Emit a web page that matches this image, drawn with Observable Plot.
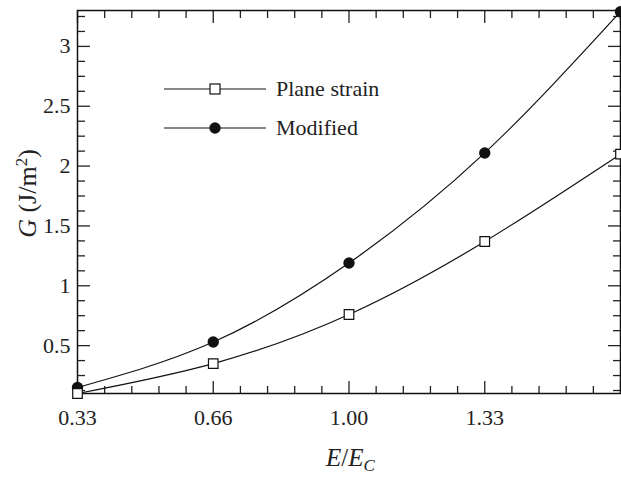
<!DOCTYPE html>
<html>
<head>
<meta charset="utf-8">
<script src="https://cdn.jsdelivr.net/npm/d3@7"></script>
<script src="https://cdn.jsdelivr.net/npm/@observablehq/plot@0.6"></script>
<style>
  html, body { margin: 0; padding: 0; background: #fff; }
  #chart { width: 621px; height: 478px; }
  #chart svg text, #chart svg tspan { font-family: "Liberation Serif", serif !important; }
</style>
</head>
<body>
<div id="chart"></div>
<script>
// ---- data ----
const ratios = [1/3, 2/3, 1, 4/3, 5/3];           // E/E_C
const planeStrain = [0.10, 0.35, 0.76, 1.37, 2.10];
const modified = [0.15, 0.53, 1.19, 2.11, 3.29];
const xTickValues = [1/3, 2/3, 1, 4/3];
const xTickLabels = ["0.33", "0.66", "1.00", "1.33"];
const yTickValues = [0.5, 1, 1.5, 2, 2.5, 3];
const yTickLabels = ["0.5", "1", "1.5", "2", "2.5", "3"];
const seriesNames = ["Plane strain", "Modified"];

const psData = ratios.map((x, i) => ({x, y: planeStrain[i]}));
const moData = ratios.map((x, i) => ({x, y: modified[i]}));

const xDomain = [1/3, 5/3];
const yDomain = [0.1, 3.3];
const xMajor = d3.range(0, 5).map(i => 1/3 + i / 3);
const xMinor = d3.range(0, 21).map(i => 1/3 + i / 15).filter((d, i) => i % 5 !== 0);
const yMajor = yTickValues;
const yMinor = d3.range(1, 27).map(i => i * 0.125).filter(d => d >= yDomain[0] && d <= yDomain[1] && !yMajor.includes(d));

const serif = "Liberation Serif, serif";
const blank = () => "";

const plot = Plot.plot({
  width: 621,
  height: 478,
  marginLeft: 77,
  marginRight: 1,
  marginTop: 10,
  marginBottom: 85,
  style: {fontFamily: serif, background: "#fff", color: "#222", overflow: "visible"},
  x: {domain: xDomain, label: null},
  y: {domain: yDomain, label: null},
  marks: [
    // tick marks (inward) on all four sides
    Plot.axisX(xMajor, {anchor: "bottom", tickSize: -12, tickFormat: blank, label: null, strokeWidth: 1.3}),
    Plot.axisX(xMinor, {anchor: "bottom", tickSize: -7, tickFormat: blank, label: null, strokeWidth: 1.3}),
    Plot.axisX(xMajor, {anchor: "top", tickSize: -12, tickFormat: blank, label: null, strokeWidth: 1.3}),
    Plot.axisX(xMinor, {anchor: "top", tickSize: -7, tickFormat: blank, label: null, strokeWidth: 1.3}),
    Plot.axisY(yMajor, {anchor: "left", tickSize: -13, tickFormat: blank, label: null, strokeWidth: 1.3}),
    Plot.axisY(yMinor, {anchor: "left", tickSize: -8, tickFormat: blank, label: null, strokeWidth: 1.3}),
    Plot.axisY(yMajor, {anchor: "right", tickSize: -13, tickFormat: blank, label: null, strokeWidth: 1.3}),
    Plot.axisY(yMinor, {anchor: "right", tickSize: -8, tickFormat: blank, label: null, strokeWidth: 1.3}),
    // tick labels
    Plot.axisX(xTickValues, {anchor: "bottom", tickSize: 0, tickPadding: 16, label: null, fontSize: 22,
      tickFormat: d => xTickLabels[xTickValues.indexOf(d)]}),
    Plot.axisY(yTickValues, {anchor: "left", tickSize: 0, tickPadding: 7, label: null, fontSize: 22,
      tickFormat: d => yTickLabels[yTickValues.indexOf(d)]}),
    Plot.frame({stroke: "#111", strokeWidth: 1.5}),
    // curves
    Plot.line(moData, {x: "x", y: "y", curve: "natural", stroke: "#111", strokeWidth: 1.2}),
    Plot.line(psData, {x: "x", y: "y", curve: "natural", stroke: "#111", strokeWidth: 1.2}),
    Plot.dot(moData, {x: "x", y: "y", r: 5.7, fill: "#111", stroke: "none"}),
    Plot.dot(psData, {x: "x", y: "y", symbol: "square", r: 5.4, fill: "#fff", stroke: "#111", strokeWidth: 1.2})
  ]
});

document.getElementById("chart").appendChild(plot);

// axis titles and legend
const svg = d3.select(plot);
const xs = plot.scale("x"), ys = plot.scale("y");
const [fx0, fx1] = xs.range, [fy1, fy0] = ys.range; // fy1 bottom, fy0 top

// x title: E/E_C
const xt = svg.append("text")
  .attr("x", (fx0 + fx1) / 2 + 2)
  .attr("y", 466)
  .attr("text-anchor", "middle")
  .attr("font-family", serif)
  .attr("font-size", 25)
  .attr("fill", "#222");
xt.append("tspan").attr("font-style", "italic").text("E");
xt.append("tspan").text("/");
xt.append("tspan").attr("font-style", "italic").text("E");
xt.append("tspan").attr("font-style", "italic").attr("font-size", 17).attr("dy", 5).text("C");

// y title: G (J/m²)
const yt = svg.append("text")
  .attr("transform", `translate(36,${(fy0 + fy1) / 2 - 8}) rotate(-90)`)
  .attr("text-anchor", "middle")
  .attr("font-family", serif)
  .attr("font-size", 26)
  .attr("fill", "#222");
yt.append("tspan").attr("font-style", "italic").text("G");
yt.append("tspan").text(" (J/m");
yt.append("tspan").attr("font-size", 17).attr("dy", -9).text("2");
yt.append("tspan").attr("dy", 9).text(")");

// legend
const legend = svg.append("g").attr("font-family", serif).attr("font-size", 22)
  .attr("fill", "#222").attr("text-anchor", "start");
seriesNames.forEach((name, i) => {
  const y = fy0 + 79 + i * 39;
  const lx0 = fx0 + 87, lx1 = fx0 + 189, mx = (lx0 + lx1) / 2;
  legend.append("line").attr("x1", lx0).attr("x2", lx1).attr("y1", y).attr("y2", y)
    .attr("stroke", "#111").attr("stroke-width", 1.2);
  if (i === 0) {
    legend.append("rect").attr("x", mx - 5).attr("y", y - 5).attr("width", 10).attr("height", 10)
      .attr("fill", "#fff").attr("stroke", "#111").attr("stroke-width", 1.2);
  } else {
    legend.append("circle").attr("cx", mx).attr("cy", y).attr("r", 5.7).attr("fill", "#111");
  }
  legend.append("text").attr("x", lx1 + 10).attr("y", y + 7).attr("text-anchor", "start").text(name);
});
</script>
</body>
</html>
